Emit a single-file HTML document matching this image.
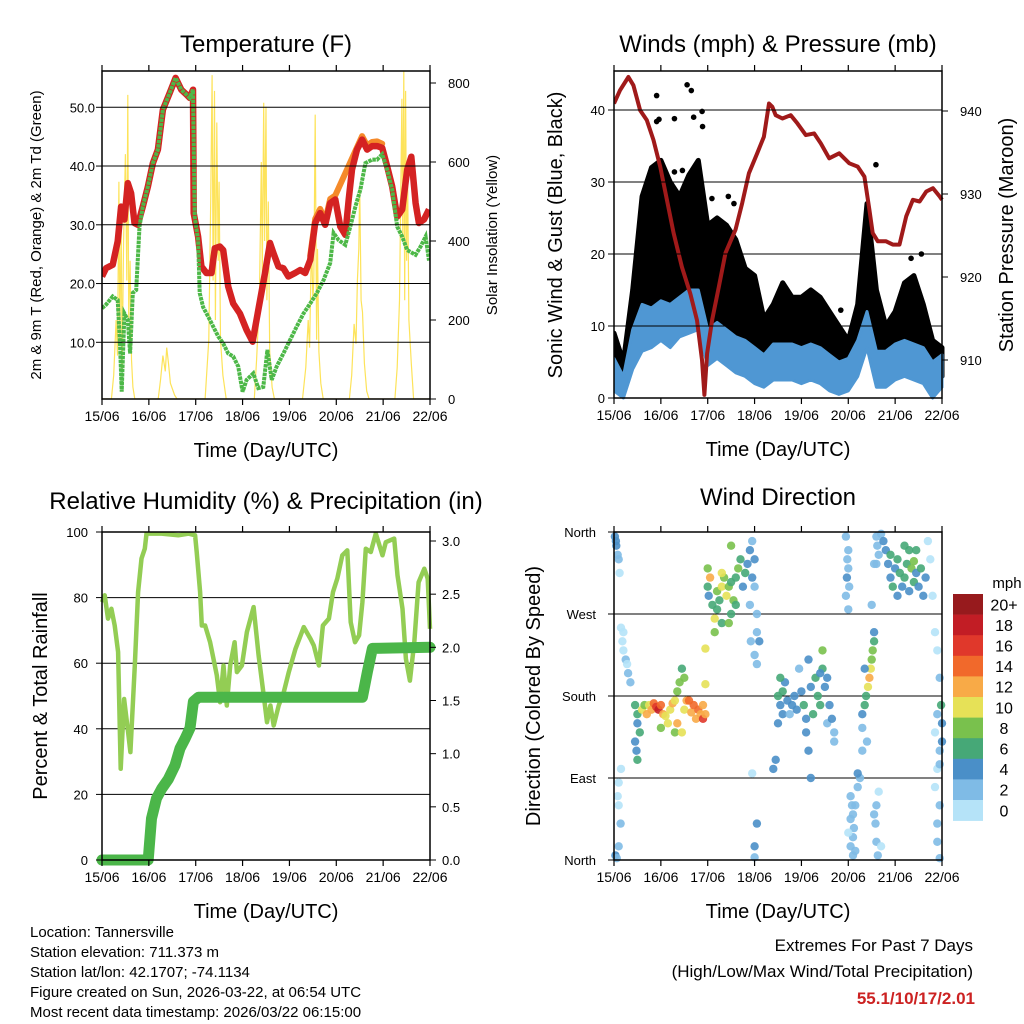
<!DOCTYPE html>
<html><head><meta charset="utf-8"><style>
html,body{margin:0;padding:0;background:#fff;}
svg{display:block;font-family:"Liberation Sans",sans-serif;}
</style></head><body>
<svg id="chart" width="1024" height="1024" viewBox="0 0 1024 1024">
<rect width="1024" height="1024" fill="#fff"/>
</svg>
<script>
// ---------- DATA ----------
const dayTicks = ["15/06","16/06","17/06","18/06","19/06","20/06","21/06","22/06"];
const tempDays = [0,.086,.229,.336,.407,.479,.55,.621,.693,.764,.871,.979,1.086,1.193,1.3,1.443,1.571,1.693,1.8,1.871,1.943,1.957,2.05,2.121,2.229,2.336,2.407,2.514,2.586,2.693,2.8,2.943,3.086,3.214,3.336,3.479,3.586,3.657,3.764,3.871,3.979,4.121,4.229,4.336,4.443,4.55,4.657,4.764,4.871,4.979,5.086,5.193,5.264,5.336,5.443,5.55,5.657,5.764,5.871,5.979,6.086,6.193,6.3,6.407,6.514,6.6,6.693,6.764,6.871,6.979];
const tempVals = [21.2,22.6,23.2,27.2,33.1,30.9,37.1,35.4,30.3,30,33.1,36.5,40.5,42.8,49.6,52.4,55,53,52.2,51.6,53,32,28,22.9,21.8,21.8,26,26.3,25.7,19.5,16.6,14.9,12.1,10.1,15.5,21.8,26.9,25.2,22.9,22.6,21.2,21.8,22.3,21.8,24,30.3,32,30,33.7,34.3,29.7,28.3,34.3,39.4,42.8,44.5,42.8,43.4,43.4,43.1,39.9,36.5,31.4,32.6,39.4,41.6,33.7,30.3,30.9,32.6];
const dewDays = [0,.086,.229,.336,.386,.421,.479,.55,.6,.657,.729,.8,.871,.979,1.086,1.193,1.3,1.443,1.571,1.693,1.8,1.871,1.943,1.979,2.05,2.086,2.157,2.264,2.371,2.479,2.586,2.693,2.8,2.907,3.0,3.086,3.229,3.336,3.443,3.529,3.621,3.729,3.871,4.014,4.157,4.3,4.443,4.586,4.729,4.871,4.943,5.05,5.193,5.3,5.407,5.514,5.621,5.764,5.871,5.979,6.086,6.193,6.3,6.407,6.514,6.693,6.8,6.907,6.979];
const dewVals = [15.8,16.4,17.8,17.2,9.3,1.6,14.9,13.8,8.1,18.4,18.9,29.7,33.1,36.5,40.5,42.8,49.6,52.4,55,53,52.2,51.6,53,31.4,27.4,18.4,16,14.4,12.7,11,9.8,8.1,7.6,5.9,1.6,3.6,4.7,2.2,2.4,8.7,3.6,5.9,8.1,10.4,12.7,14.9,16.6,18.4,20.6,23.5,28.6,27.4,26.6,29.7,33.1,36,40.5,41.1,41.1,42,39.4,36,29.7,28,25.7,24.9,26.3,28,23.9];
const orangeDays = [4.443,4.55,4.657,4.764,4.871,4.979,5.55,5.657,5.764,5.871,5.979];
const orangeVals = [24.7,31,32.7,30.7,34.4,35,45.1,43.5,44.1,44.2,43.8];
const tempTicks = [10,20,30,40,50];
const solarTicks = [0,200,400,600,800];
const solarDays = [0,0.2,0.25,0.3,0.33,0.36,0.38,0.41,0.43,0.46,0.5,0.53,0.55,0.57,0.6,0.63,0.66,0.7,1.2,1.25,1.3,1.35,1.38,1.42,1.46,1.55,1.6,2.2,2.28,2.32,2.35,2.37,2.4,2.42,2.45,2.48,2.5,2.53,2.58,2.65,3.25,3.3,3.36,3.4,3.42,3.45,3.47,3.5,3.52,3.55,3.58,3.63,3.68,4.28,4.35,4.4,4.43,4.47,4.5,4.52,4.55,4.58,4.6,4.63,4.67,4.72,5.28,5.33,5.38,5.42,5.45,5.48,5.5,5.53,5.56,5.6,5.65,5.7,6.25,6.3,6.35,6.38,6.4,6.42,6.44,6.46,6.48,6.5,6.52,6.55,6.6,6.65,7];
const solarVals = [0,0,60,200,110,550,150,450,70,400,620,300,770,200,350,100,30,0,0,50,110,70,130,90,40,10,0,0,150,500,820,300,780,200,700,350,550,150,60,0,0,100,250,600,320,750,400,740,250,500,120,30,0,0,80,200,130,400,250,300,720,150,380,120,40,0,0,60,190,140,300,380,540,250,220,90,20,0,0,80,250,550,760,400,830,250,780,350,600,200,90,0,0];
const windDays = [0,.2,.4,.6,.8,1,1.2,1.4,1.6,1.8,2,2.2,2.4,2.6,2.8,3,3.2,3.4,3.6,3.8,4,4.2,4.4,4.6,4.8,5,5.2,5.4,5.6,5.8,6,6.2,6.4,6.6,6.8,7];
const sustLow = [1,0,4,6.5,7,8,7,8.5,9,9.5,4.5,5.5,4.5,3.5,3,2,1.5,2.5,2.5,2.5,2,2.5,2,1,0.5,1,3,7,1.5,1.5,2.5,3,2.5,2,0,1.5];
const sustHigh = [5.5,3,9.5,13,12.5,13.5,13,14,15,15,9.5,10.5,9.5,8.5,8,7,6,7.5,7.5,7.5,7,7.5,7,6,5,5.5,8,12,6.5,6.5,7.5,8,7.5,7,5,6];
const gustLow = [1.5,1,5,8,9,10,10,10,12,13,9,10,10,9,8,7,5,5,6,6,5,6,5,4,3,3,5,9,4,3,5,7,8,5,2,3];
const gustHigh = [9,5,15,28,32,33,30,28,31,33,24,25,24,22,18,17,11,13,16,14,14,15,14,12,10,8,13,27,15,10,12,16,17,13,8,7];
const gustOutDays = [0.91,1.56,1.65,1.29,0.91,0.96,1.88,1.7,1.89,5.59,2.09,2.44,2.56,6.34,6.56,0.74,4.84,5.31,1.46,1.29];
const gustOutVals = [42,43.5,42.7,38.8,38.4,38.7,39.8,39,37.7,32.4,27.7,28,27,19.4,20,15.2,12.2,12.5,31.6,31.4];
const pressDays = [0,.129,.307,.414,.557,.7,.843,.986,1.129,1.271,1.45,1.629,1.771,1.879,1.929,1.986,2.093,2.236,2.379,2.593,2.736,2.879,3.057,3.2,3.307,3.379,3.45,3.593,3.771,3.914,4.093,4.271,4.414,4.593,4.807,5.021,5.2,5.343,5.45,5.521,5.629,5.807,5.95,6.093,6.236,6.379,6.521,6.664,6.807,6.95,7];
const pressVals = [940.9,942.5,944.1,943.1,940.1,938.9,936.5,933.3,929.3,925.3,921.2,918,914.8,910,905.8,910.8,914.8,918.8,922.9,925.7,928.9,932.5,934.9,936.9,940.9,940.5,939.5,939.1,939.5,938.5,937.1,937.3,936.1,934.3,934.9,933.7,933.3,932.1,928.1,925.3,924.3,924.3,923.9,923.9,927.3,929.3,929.1,930.3,930.7,929.7,929.3];
const windTicks = [0,10,20,30,40];
const pressTicks = [910,920,930,940];
const rhDays = [0,.057,.129,.2,.271,.343,.4,.471,.557,.607,.7,.771,.843,.914,.95,1.271,1.629,1.843,1.986,2.021,2.093,2.129,2.2,2.307,2.379,2.45,2.521,2.593,2.664,2.736,2.829,2.879,2.986,3.093,3.236,3.343,3.45,3.521,3.593,3.664,3.771,3.879,3.986,4.129,4.307,4.45,4.521,4.629,4.714,4.843,4.929,5.021,5.129,5.236,5.307,5.4,5.486,5.557,5.629,5.736,5.843,5.986,6.057,6.236,6.307,6.414,6.486,6.571,6.664,6.757,6.879,6.95,7];
const rhVals = [78.6,80.7,73.6,76.6,71.5,63.4,27.8,49.1,39,32.9,59.3,81.7,91.9,94.9,99.5,99.5,99,99.5,99,93.9,81.7,71.5,71.5,66.4,61.3,56.3,48.1,59.3,47.1,59.3,66.4,57.3,59.3,69.5,77.1,62.4,50.2,42,47.1,41,47.1,51.2,57.3,64.4,71,67.4,65.4,59.3,71.5,73.6,81.7,85.8,92.9,94.4,72.5,66.4,68.5,78.6,94.9,93.9,99.5,92.9,96.9,98,86.8,76.6,61.3,54.7,66.4,84.7,88.8,85.8,70.5];
const rainDays = [0,.986,1.057,1.164,1.271,1.414,1.557,1.664,1.771,1.879,1.95,2.057,5.557,5.664,5.771,7];
const rainVals = [0,0,.39,.58,.67,.76,.89,1.05,1.14,1.24,1.49,1.53,1.53,1.77,1.99,2.0];
const rhTicks = [0,20,40,60,80,100];
const rainTicks = ["0.0","0.5","1.0","1.5","2.0","2.5","3.0"];
const dirDays = [0.02,0.05,0.08,0.1,0.04,0.12,0.03,0.06,0.1,0.14,0.1,0.08,0.15,0.18,0.2,0.25,0.3,0.2,0.28,0.35,0.15,0.1,
0.45,0.5,0.5,0.55,0.45,0.48,0.5,0.6,0.65,0.7,0.75,0.8,0.85,0.9,0.95,1.0,1.05,1.1,1.15,1.0,1.2,1.25,1.3,1.35,1.4,1.45,1.5,1.55,1.5,1.6,1.65,1.7,1.75,1.8,1.85,1.9,1.9,1.95,1.3,1.45,1.35,1.95,1.95,
2.0,2.0,2.02,2.05,2.1,2.15,2.2,2.2,2.25,2.3,2.35,2.4,2.45,2.5,2.55,2.6,2.65,2.7,2.75,2.8,2.85,2.5,2.3,2.6,2.15,2.3,2.9,2.95,3.0,2.9,2.95,3.0,2.5,2.45,3.05,3.05,3.1,3.05,2.92,3.0,
3.5,3.55,3.6,3.5,3.6,3.7,3.8,3.75,3.85,3.9,4.0,4.05,4.1,4.1,4.15,4.2,4.15,3.95,4.3,4.35,4.4,4.45,4.45,4.5,4.55,4.6,4.55,4.65,4.7,4.7,3.45,3.4,4.2,3.65,3.55,4.4,4.25,
4.95,5.0,5.0,5.02,4.98,4.95,5.0,4.97,5.05,5.08,5.1,5.05,5.12,5.1,5.05,5.1,5.15,5.0,5.15,5.2,5.25,5.2,
5.3,5.3,5.35,5.38,5.42,5.45,5.48,5.5,5.52,5.55,5.55,5.4,5.35,5.3,
5.6,5.62,5.65,5.6,5.7,5.75,5.55,5.5,5.6,5.58,5.6,5.63,5.55,5.7,5.65,
5.8,5.85,5.9,5.95,6.0,6.05,6.1,6.15,6.2,6.25,6.3,6.35,6.4,6.45,6.5,6.55,6.6,6.65,6.05,6.3,5.9,6.2,6.45,6.4,
6.7,6.75,6.8,6.85,6.9,6.95,6.9,6.85,6.95,6.9,6.85,6.95,6.9,6.9,6.95,7.0,6.98,7.0,6.95,3.0,3.05,3.0,2.95];
const dirVals = [355,345,335,330,350,315,5,2,15,40,60,70,255,240,230,220,205,250,215,195,100,85,
170,160,150,140,130,120,110,165,170,160,170,165,172,168,165,170,160,158,150,145,165,172,175,185,195,210,200,175,165,175,162,170,155,165,160,155,170,160,140,140,150,193,232,
320,300,290,310,280,265,275,295,285,300,310,290,300,305,285,310,320,330,300,315,325,270,260,280,250,315,340,310,300,280,350,330,345,260,270,250,240,215,240,225,
180,170,160,150,185,175,170,160,180,165,185,170,155,140,120,190,220,210,200,180,170,210,230,190,200,170,150,155,140,130,110,100,90,195,200,205,160,
355,340,320,300,330,290,275,310,70,60,50,45,35,25,15,5,10,30,60,80,90,95,
145,160,170,180,190,200,210,220,230,240,250,130,210,120,
355,345,335,325,358,350,325,280,60,40,20,5,50,15,75,
340,325,310,300,320,330,315,300,310,325,340,320,305,315,300,320,290,310,290,295,335,345,340,328,
350,330,290,250,230,200,160,140,120,100,80,60,40,20,2,150,170,130,105,15,40,3,95];
const dirSpeeds = [4,4,3,2,5,1,4,3,2,2,1,1,0,0,1,2,3,1,1,2,1,0,
6,6,5,6,5,5,6,10,8,12,10,12,14,16,18,14,12,10,10,8,10,12,10,8,8,6,8,12,10,14,12,14,12,14,12,16,12,12,8,10,12,10,10,
8,6,4,12,6,10,6,8,6,10,8,10,8,6,8,6,8,6,4,6,4,6,6,6,8,10,4,4,3,2,3,4,8,8,3,2,4,3,2,3,
6,4,4,4,6,4,4,3,4,4,4,6,4,4,4,4,4,3,6,6,6,6,8,4,4,4,2,4,2,2,4,4,4,4,6,4,6,
2,2,2,3,2,2,2,4,2,2,2,2,2,2,2,2,2,1,2,2,2,4,
2,4,6,6,10,12,10,8,8,6,4,2,4,2,
2,2,2,2,2,4,2,2,2,2,2,2,2,1,1,
4,4,4,6,4,6,6,4,6,6,6,8,6,4,4,6,4,4,4,4,6,6,6,8,
0,1,0,1,0,2,2,1,2,0,1,2,2,2,2,4,6,4,2,4,4,2,1];
const speedBins = ["0","2","4","6","8","10","12","14","16","18","20+"];
const binColors = ["#b5e3f8","#7fbbe6","#4a8fc8","#46a877","#79c14d","#e6e157","#f8aa47","#f1692b","#e0382b","#c21d25","#971a1d"];
const dirTickLabels = ["North","East","South","West","North"];

// ---------- HELPERS ----------
const NS = "http://www.w3.org/2000/svg";
const svg = document.getElementById("chart");
function mk(tag, attrs, parent, text){
  const e = document.createElementNS(NS, tag);
  for (const k in attrs) e.setAttribute(k, attrs[k]);
  if (text !== undefined) e.textContent = text;
  (parent || svg).appendChild(e);
  return e;
}
function linScale(d0,d1,r0,r1){ return v => r0 + (v-d0)*(r1-r0)/(d1-d0); }
function pathFrom(xs, ys, sx, sy){
  return xs.map((d,i)=>(i?"L":"M")+sx(d).toFixed(1)+","+sy(ys[i]).toFixed(1)).join("");
}
function text(x,y,s,size,anchor,parent,extra){
  return mk("text", Object.assign({x:x,y:y,"font-size":size,"text-anchor":anchor||"middle",fill:"#000"}, extra||{}), parent, s);
}
function frame(g, L, T, R, B){
  mk("rect",{x:L,y:T,width:R-L,height:B-T,fill:"none",stroke:"#000","stroke-width":1.5}, g);
}
function xAxis(g, L, R, T, B, name){
  const sx = linScale(0,7,L,R);
  const ax = mk("g",{}, g);
  
  
  dayTicks.forEach((lab,i)=>{
    const x = sx(i);
    mk("line",{x1:x,y1:B,x2:x,y2:B+6,stroke:"#000","stroke-width":1.2}, ax);
    mk("line",{x1:x,y1:T,x2:x,y2:T-6,stroke:"#000","stroke-width":1.2}, ax);
    const t = text(x,B+22,lab,14,"middle",ax);
    
    
  });
  const tt = text((L+R)/2,B+58,"Time (Day/UTC)",20,"middle",g);
  
  
  return sx;
}
function grid(g, L, R, ys){
  ys.forEach(y=>mk("line",{x1:L,y1:y,x2:R,y2:y,stroke:"#000","stroke-width":1}, g));
}

// ---------- PANEL 1 ----------
(function(){
  const L=102,R=430,T=71,B=399;
  const g = mk("g",{});
  
  
  const sx = linScale(0,7,L,R);
  const sy = linScale(10,50,342.3,107.3);
  const ss = linScale(0,800,399,83);
  const cp = mk("clipPath",{id:"c1"}); mk("rect",{x:L,y:T,width:R-L,height:B-T},cp);
  const data = mk("g",{"clip-path":"url(#c1)"}, g);
  const sol = mk("path",{d:pathFrom(solarDays,solarVals,sx,ss),fill:"none",stroke:"#fde35a","stroke-width":1.2}, data);
  
  
  grid(g,L,R,tempTicks.map(sy));
  const og = mk("path",{d:pathFrom(orangeDays,orangeVals,sx,sy),fill:"none",stroke:"#f58a2a","stroke-width":6,"stroke-linejoin":"round","stroke-linecap":"round"}, data);
  
  
  const rd = mk("path",{d:pathFrom(tempDays,tempVals,sx,sy),fill:"none",stroke:"#d42222","stroke-width":6.5,"stroke-linejoin":"round"}, data);
  
  
  const gd = mk("path",{d:pathFrom(dewDays,dewVals,sx,sy),fill:"none",stroke:"#4db848","stroke-width":4,"stroke-dasharray":"3.5 0.8"}, data);
  
  
  frame(g,L,T,R,B);
  tempTicks.forEach(v=>{
    const y=sy(v);
    mk("line",{x1:L-6,y1:y,x2:L,y2:y,stroke:"#000"},g);
    const t=text(L-7,y+5,v.toFixed(1),13,"end",g);
    
    
  });
  solarTicks.forEach(v=>{
    const y=ss(v);
    mk("line",{x1:R,y1:y,x2:R+6,y2:y,stroke:"#000"},g);
    const t=text(R+18,y+5,String(v),13,"start",g);
    
    
  });
  xAxis(g,L,R,T,B,"temperature-x-axis");
  const ti = text(266,52,"Temperature (F)",24,"middle",g);
  
  
  const yl = text(0,0,"2m & 9m T (Red, Orange) & 2m Td (Green)",15,"middle",g,{transform:"translate(41,235) rotate(-90)"});
  
  
  const yr = text(0,0,"Solar Insolation (Yellow)",15,"middle",g,{transform:"translate(497,235) rotate(-90)"});
  
  
})();

// ---------- PANEL 2 ----------
(function(){
  const L=614,R=942,T=71,B=398;
  const g = mk("g",{});
  
  
  const sx = linScale(0,7,L,R);
  const sy = linScale(0,40,398,110);
  const sp = linScale(910,940,360,111);
  const cp = mk("clipPath",{id:"c2"}); mk("rect",{x:L,y:T-4,width:R-L+4,height:B-T+8},cp);
  const data = mk("g",{"clip-path":"url(#c2)"}, g);
  grid(g,L,R,windTicks.map(sy));
  function band(lo,hi){
    let d = windDays.map((t,i)=>(i?"L":"M")+sx(t).toFixed(1)+","+sy(hi[i]).toFixed(1)).join("");
    for(let i=windDays.length-1;i>=0;i--) d += "L"+sx(windDays[i]).toFixed(1)+","+sy(lo[i]).toFixed(1);
    return d+"Z";
  }
  const gb = mk("path",{d:band(gustLow,gustHigh),fill:"#000",stroke:"#000","stroke-width":5,"stroke-linejoin":"round"}, data);
  
  
  gustOutDays.forEach((d,i)=>{
    const c = mk("circle",{cx:sx(d),cy:sy(gustOutVals[i]),r:2.8,fill:"#000"}, data);
    
    
  });
  const bb = mk("path",{d:band(sustLow,sustHigh),fill:"#4f97d3",stroke:"#4f97d3","stroke-width":3,"stroke-linejoin":"round"}, data);
  
  
  const pr = mk("path",{d:pathFrom(pressDays,pressVals,sx,sp),fill:"none",stroke:"#a01a1a","stroke-width":4,"stroke-linejoin":"round"}, data);
  
  
  frame(g,L,T,R,B);
  windTicks.forEach(v=>{
    const y=sy(v);
    mk("line",{x1:L-6,y1:y,x2:L,y2:y,stroke:"#000"},g);
    const t=text(L-9,y+5,String(v),13,"end",g);
    
    
  });
  pressTicks.forEach(v=>{
    const y=sp(v);
    mk("line",{x1:R,y1:y,x2:R+6,y2:y,stroke:"#000"},g);
    const t=text(R+18,y+5,String(v),13,"start",g);
    
    
  });
  xAxis(g,L,R,T,B,"winds-x-axis");
  const ti = text(778,52,"Winds (mph) & Pressure (mb)",24,"middle",g);
  
  
  const yl = text(0,0,"Sonic Wind & Gust (Blue, Black)",20,"middle",g,{transform:"translate(562,235) rotate(-90)"});
  
  
  const yr = text(0,0,"Station Pressure (Maroon)",20,"middle",g,{transform:"translate(1013,235) rotate(-90)"});
  
  
})();

// ---------- PANEL 3 ----------
(function(){
  const L=102,R=430,T=532,B=860;
  const g = mk("g",{});
  
  
  const sx = linScale(0,7,L,R);
  const sy = linScale(0,100,860,532);
  const sr = linScale(0,3,860,541);
  grid(g,L,R,rhTicks.map(sy));
  const cp = mk("clipPath",{id:"c3"}); mk("rect",{x:L-8,y:T,width:R-L+16,height:B-T+8},cp);
  const data = mk("g",{"clip-path":"url(#c3)"}, g);
  const rh = mk("path",{d:pathFrom(rhDays,rhVals,sx,sy),fill:"none",stroke:"#93cd54","stroke-width":4.5,"stroke-linejoin":"round"}, data);
  
  
  const rn = mk("path",{d:pathFrom(rainDays,rainVals,sx,sr),fill:"none",stroke:"#4bb649","stroke-width":11,"stroke-linejoin":"round","stroke-linecap":"round"}, data);
  
  
  frame(g,L,T,R,B);
  rhTicks.forEach(v=>{
    const y=sy(v);
    mk("line",{x1:L-6,y1:y,x2:L,y2:y,stroke:"#000"},g);
    const t=text(L-14,y+5,String(v),13,"end",g);
    
    
  });
  rainTicks.forEach(v=>{
    const y=sr(parseFloat(v));
    mk("line",{x1:R,y1:y,x2:R+6,y2:y,stroke:"#000"},g);
    const t=text(R+12,y+5,v,13,"start",g);
    
    
  });
  xAxis(g,L,R,T,B,"humidity-x-axis");
  const ti = text(266,509,"Relative Humidity (%) & Precipitation (in)",24,"middle",g);
  
  
  const yl = text(0,0,"Percent & Total Rainfall",20,"middle",g,{transform:"translate(47,696) rotate(-90)"});
  
  
})();

// ---------- PANEL 4 ----------
(function(){
  const L=614,R=942,T=532,B=860;
  const g = mk("g",{});
  
  
  const sx = linScale(0,7,L,R);
  const sy = linScale(0,360,860,532);
  grid(g,L,R,[0,90,180,270,360].map(sy));
  const data = mk("g",{}, g);
  dirDays.forEach((d,i)=>{
    const b = Math.min(10, Math.floor(dirSpeeds[i]/2));
    const c = mk("circle",{cx:sx(d).toFixed(1),cy:sy(dirVals[i]).toFixed(1),r:4.2,fill:binColors[b],"fill-opacity":0.9}, data);
    
    
  });
  frame(g,L,T,R,B);
  dirTickLabels.forEach((lab,i)=>{
    const y=sy(i*90);
    mk("line",{x1:L-6,y1:y,x2:L,y2:y,stroke:"#000"},g);
    const t=text(L-18,y+5,lab,13,"end",g);
    
    
  });
  xAxis(g,L,R,T,B,"direction-x-axis");
  const ti = text(778,505,"Wind Direction",24,"middle",g);
  
  
  const yl = text(0,0,"Direction (Colored By Speed)",20,"middle",g,{transform:"translate(540,696) rotate(-90)"});
  
  
  const lg = mk("g",{},g);
  
  
  const top=594, h=20.6;
  for(let k=0;k<speedBins.length;k++){
    const idx = speedBins.length-1-k;
    mk("rect",{x:953,y:top+k*h,width:30,height:h+0.3,fill:binColors[idx]},lg);
    const t=text(1004,top+k*h+h/2+6,speedBins[idx],16,"middle",lg);
    
    
  }
  const u=text(1007,588,"mph",15,"middle",lg);
  
  
})();

// ---------- FOOTER ----------
(function(){
  const g = mk("g",{});
  
  
  const lines = ["Location: Tannersville","Station elevation: 711.373 m","Station lat/lon: 42.1707; -74.1134","Figure created on Sun, 2026-03-22, at 06:54 UTC","Most recent data timestamp: 2026/03/22 06:15:00"];
  lines.forEach((s,i)=>{ text(30,937+i*20,s,15,"start",g); });
  const e = mk("g",{});
  
  
  text(973,951,"Extremes For Past 7 Days",17,"end",e);
  text(973,977,"(High/Low/Max Wind/Total Precipitation)",17,"end",e);
  text(975,1004,"55.1/10/17/2.01",17,"end",e,{fill:"#cc2222","font-weight":"bold"});
})();
</script>
</body></html>
